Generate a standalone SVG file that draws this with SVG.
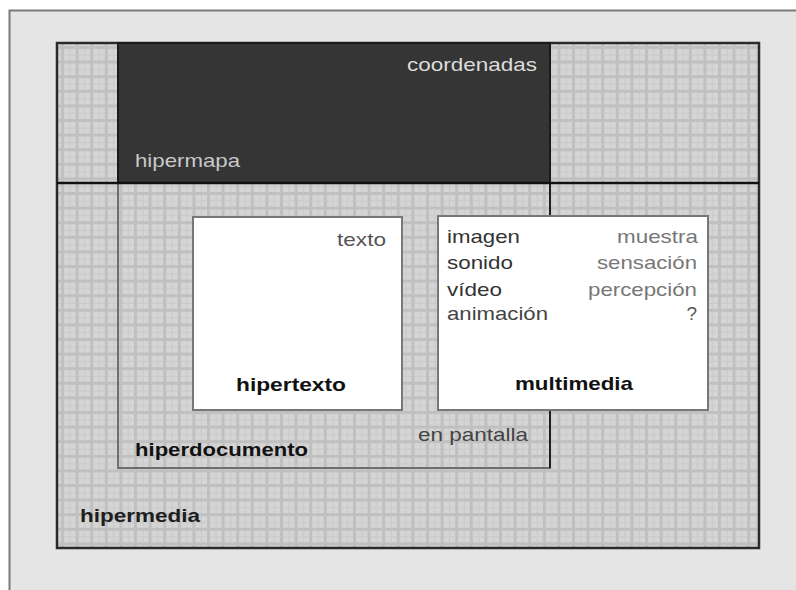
<svg xmlns="http://www.w3.org/2000/svg" width="796" height="590" viewBox="0 0 796 590">
<style>
text{font-family:"Liberation Sans",Arial,sans-serif;font-size:19px}
.b{font-weight:bold}
.box{fill:#fff;stroke:#777;stroke-width:2}
</style>
<defs>
<pattern id="grid" x="61" y="46" width="14.6" height="14.6" patternUnits="userSpaceOnUse">
<rect width="14.6" height="14.6" fill="#d5d5d5"/>
<rect x="8.5" y="0" width="1.2" height="14.6" fill="#cbcbcb"/>
<rect x="0" y="8.5" width="14.6" height="1.2" fill="#cbcbcb"/>
<rect x="0" y="0" width="3" height="14.6" fill="#c0c0c0"/>
<rect x="0" y="0" width="14.6" height="3" fill="#c0c0c0"/>
</pattern>
</defs>
<rect width="796" height="590" fill="#fff"/>
<rect x="9" y="10" width="787" height="580" fill="#e5e5e5"/>
<path d="M9.5 590V10.5H796" fill="none" stroke="#7a7a7a" stroke-width="2"/>
<g id="hipermedia">
<rect x="57" y="43" width="702" height="505" fill="url(#grid)" stroke="#2a2a2a" stroke-width="2.5"/>
<text x="80" y="522" class="b" font-size="16" fill="#1e1e1e" textLength="120" lengthAdjust="spacingAndGlyphs">hipermedia</text>
</g>
<g id="hiperdocumento">
<rect x="118" y="183" width="432" height="285" fill="none" stroke="#6e6e6e" stroke-width="2"/>
<line x1="550" y1="183" x2="550" y2="468" stroke="#1e1e1e" stroke-width="2"/>
<text x="135" y="456" class="b" fill="#111" textLength="173" lengthAdjust="spacingAndGlyphs">hiperdocumento</text>
<text x="418" y="441" fill="#444" textLength="110" lengthAdjust="spacingAndGlyphs">en pantalla</text>
</g>
<g id="hipermapa">
<rect x="118" y="43" width="432" height="140" fill="#353535" stroke="#1a1a1a" stroke-width="2"/>
<text x="407" y="71" fill="#dcdcdc" textLength="130" lengthAdjust="spacingAndGlyphs">coordenadas</text>
<text x="135" y="167" fill="#c8c8c8" textLength="105" lengthAdjust="spacingAndGlyphs">hipermapa</text>
</g>
<g id="connectors">
<line x1="57" y1="183" x2="759" y2="183" stroke="#111" stroke-width="2.5"/>
</g>
<g id="hipertexto">
<rect class="box" x="193" y="217" width="209" height="193"/>
<text x="337" y="246" fill="#555" textLength="49" lengthAdjust="spacingAndGlyphs">texto</text>
<text x="236" y="391" class="b" fill="#111" textLength="110" lengthAdjust="spacingAndGlyphs">hipertexto</text>
</g>
<g id="multimedia">
<rect class="box" x="438" y="216" width="270" height="194"/>
<text x="447" y="243" fill="#333" textLength="73" lengthAdjust="spacingAndGlyphs">imagen</text>
<text x="447" y="269" fill="#333" textLength="66" lengthAdjust="spacingAndGlyphs">sonido</text>
<text x="447" y="296" fill="#333" textLength="55" lengthAdjust="spacingAndGlyphs">vídeo</text>
<text x="447" y="320" fill="#444" font-size="16" textLength="101" lengthAdjust="spacingAndGlyphs">animación</text>
<text x="617" y="243" fill="#777" textLength="81" lengthAdjust="spacingAndGlyphs">muestra</text>
<text x="597" y="269" fill="#777" textLength="100" lengthAdjust="spacingAndGlyphs">sensación</text>
<text x="588" y="296" fill="#777" textLength="109" lengthAdjust="spacingAndGlyphs">percepción</text>
<text x="697" y="320" fill="#555" font-size="14" text-anchor="end">?</text>
<text x="515" y="390" class="b" fill="#111" textLength="118" lengthAdjust="spacingAndGlyphs">multimedia</text>
</g>
</svg>
